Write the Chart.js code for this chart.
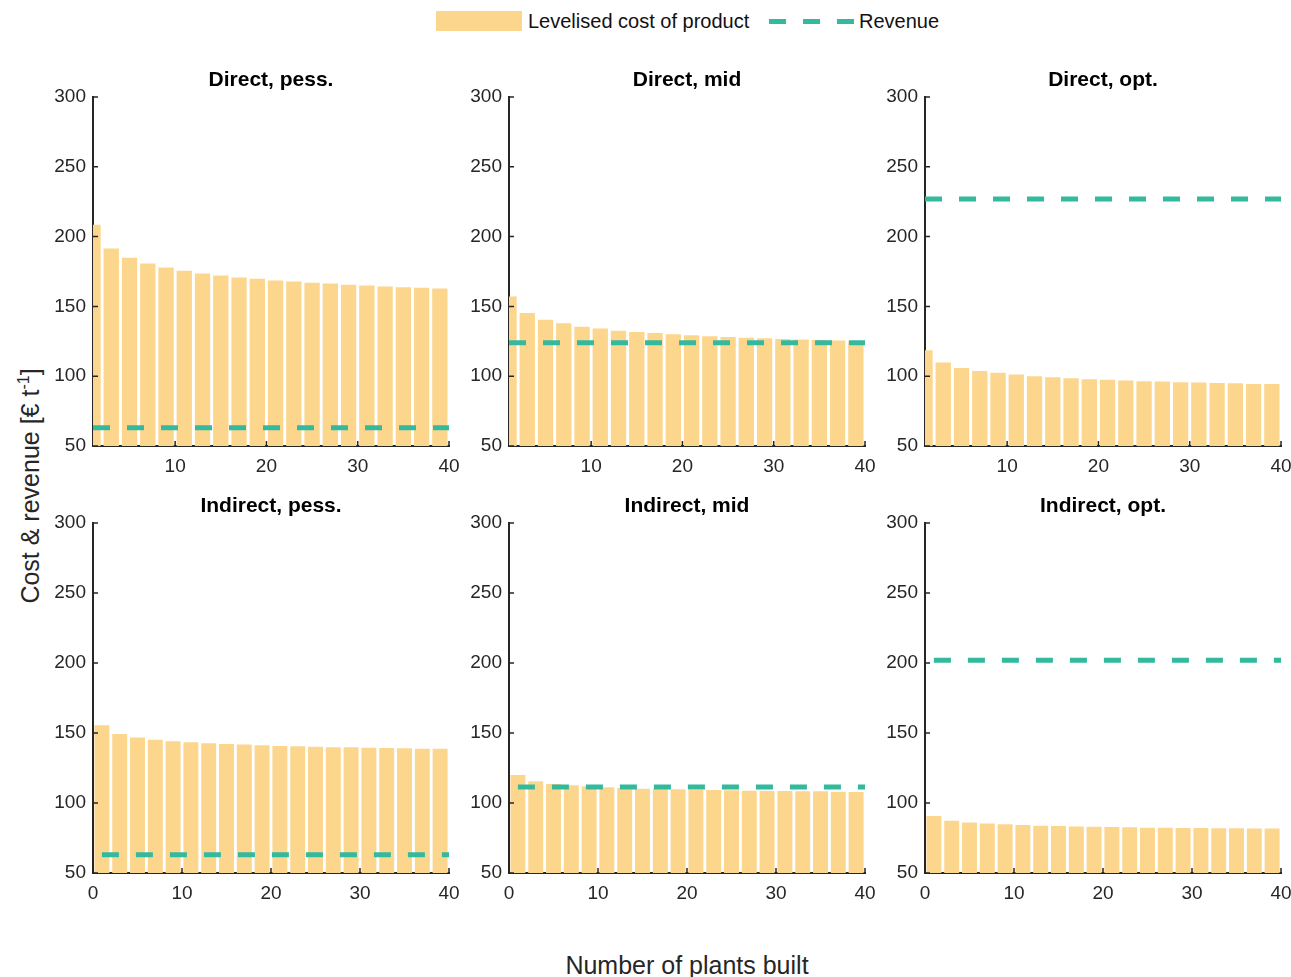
<!DOCTYPE html>
<html>
<head>
<meta charset="utf-8">
<script src="https://cdn.jsdelivr.net/npm/chart.js@4.4.1/dist/chart.umd.min.js"></script>
<style>
  html, body { margin: 0; padding: 0; background: #fff; }
  #root { position: relative; width: 1291px; height: 977px; overflow: hidden; font-family: "Liberation Sans", Arial, sans-serif; }
  .pane { position: absolute; }
  .lbl { position: absolute; color: #262626; white-space: nowrap; }
</style>
</head>
<body>
<div id="root">
  <div class="lbl" style="left:436px;top:11px;width:86px;height:20px;background:#FDD68E;"></div>
  <div class="lbl" style="left:528px;top:9px;font-size:20px;line-height:24px;color:#111;">Levelised cost of product</div>
  <div class="lbl" style="left:769px;top:19px;width:86px;height:5px;background:repeating-linear-gradient(90deg,#33B99E 0px,#33B99E 17px,transparent 17px,transparent 34px);"></div>
  <div class="lbl" style="left:859px;top:9px;font-size:20px;line-height:24px;color:#111;">Revenue</div>
  <div class="lbl" style="left:30px;top:486px;font-size:25px;line-height:28px;transform:translate(-50%,-50%) rotate(-90deg);">Cost &amp; revenue [€ t<sup style="font-size:16px;vertical-align:10px;line-height:0;">-1</sup>]</div>
  <div class="lbl" style="left:687px;top:965px;font-size:25px;line-height:28px;transform:translate(-50%,-50%);">Number of plants built</div>
</div>
<script>
// ---- data ----
const plants = [1,3,5,7,9,11,13,15,17,19,21,23,25,27,29,31,33,35,37,39];
const revenueX = [1, 40];
const titles = ["Direct, pess.", "Direct, mid", "Direct, opt.", "Indirect, pess.", "Indirect, mid", "Indirect, opt."];
const directPess   = [208.4,191.4,184.8,180.7,177.9,175.5,173.6,172.1,170.7,169.8,168.6,167.9,166.9,166.4,165.5,165.0,164.3,163.8,163.3,162.9];
const directMid    = [157.1,145.3,140.5,137.9,135.5,134.1,132.6,131.7,131.0,130.0,129.3,128.6,128.1,127.6,127.1,126.7,126.2,126.0,125.5,125.3];
const directOpt    = [118.6,109.8,105.9,103.8,102.4,101.2,100.0,99.3,98.6,97.9,97.4,96.9,96.4,96.2,95.7,95.5,95.2,95.0,94.5,94.5];
const indirectPess = [155.5,149.3,146.7,145.2,144.1,143.4,142.6,142.1,141.7,141.2,140.7,140.5,140.2,139.8,139.8,139.5,139.3,139.1,138.8,138.8];
const indirectMid  = [120.0,115.5,113.6,112.6,111.9,111.2,110.7,110.2,110.0,109.8,109.3,109.3,109.1,108.8,108.6,108.6,108.4,108.4,108.1,107.9];
const indirectOpt  = [90.7,87.4,86.0,85.3,84.8,84.3,83.8,83.6,83.3,83.1,82.9,82.6,82.4,82.4,82.1,82.1,81.9,81.9,81.7,81.7];
const revenue = [63, 124, 227, 63, 111.5, 202];
const costSeries = [directPess, directMid, directOpt, indirectPess, indirectMid, indirectOpt];
const yTicks = [50, 100, 150, 200, 250, 300];
const xTicksTop = [10, 20, 30, 40];
const xTicksBottom = [0, 10, 20, 30, 40];
const xMinTop = 1, xMinBottom = 0, xMax = 40;

// ---- layout ----
const colLeft = [93, 509, 925];
const rowTop = [97, 523];
const rowH = [349, 350];
const areaW = 356;
const padL = 70, padR = 70, padT = 45, padB = 40;
const BAR = '#FDD68E', REV = '#33B99E', AX = '#262626';
const FONT = '"Liberation Sans", Arial, sans-serif';

const decor = {
  id: 'decor',
  afterDatasetsDraw(chart, args, opts) {
    const ctx = chart.ctx, a = chart.chartArea;
    const xs = chart.scales.x, ys = chart.scales.y;
    ctx.save();
    ctx.strokeStyle = AX; ctx.lineWidth = 1.5;
    ctx.beginPath();
    xs.ticks.forEach(t => { const px = xs.getPixelForValue(t.value); ctx.moveTo(px, a.bottom); ctx.lineTo(px, a.bottom - 5); });
    ys.ticks.forEach(t => { const py = ys.getPixelForValue(t.value); ctx.moveTo(a.left, py); ctx.lineTo(a.left + 5, py); });
    ctx.stroke();
    ctx.fillStyle = '#000';
    ctx.font = 'bold 21px ' + FONT;
    ctx.textAlign = 'center'; ctx.textBaseline = 'middle';
    ctx.fillText(opts.title, (a.left + a.right) / 2, a.top - 17);
    ctx.restore();
  }
};

const root = document.getElementById('root');
for (let i = 0; i < 6; i++) {
  const r = Math.floor(i / 3), c = i % 3;
  const H = rowH[r];
  const div = document.createElement('div');
  div.className = 'pane';
  const w = areaW + padL + padR, h = H + padT + padB;
  div.style.left = (colLeft[c] - padL) + 'px';
  div.style.top = (rowTop[r] - padT) + 'px';
  div.style.width = w + 'px';
  div.style.height = h + 'px';
  const cv = document.createElement('canvas');
  div.appendChild(cv);
  root.appendChild(div);
  const xTicks = r === 0 ? xTicksTop : xTicksBottom;
  new Chart(cv, {
    type: 'bar',
    data: {
      datasets: [
        { type: 'line', label: 'Revenue', order: 0,
          data: revenueX.map(x => ({ x: x, y: revenue[i] })),
          borderColor: REV, borderWidth: 5, borderDash: [17, 17], borderCapStyle: 'butt',
          pointRadius: 0, fill: false, tension: 0 },
        { type: 'bar', label: 'Levelised cost of product', order: 1,
          data: plants.map((x, k) => ({ x: x, y: costSeries[i][k] })),
          backgroundColor: BAR, borderWidth: 0,
          barPercentage: 0.84, categoryPercentage: 1.0 }
      ]
    },
    options: {
      responsive: true, maintainAspectRatio: false, animation: false,
      layout: { padding: { top: padT, right: padR, left: 0, bottom: 0 } },
      plugins: { legend: { display: false }, tooltip: { enabled: false }, decor: { title: titles[i] } },
      scales: {
        x: {
          type: 'linear', offset: false,
          min: r === 0 ? xMinTop : xMinBottom, max: xMax,
          grid: { display: true, drawOnChartArea: false, drawTicks: false, offset: false },
          border: { display: true, color: AX, width: 2 },
          ticks: { color: AX, font: { family: FONT, size: 19 }, padding: 9, maxRotation: 0 },
          afterBuildTicks: s => { s.ticks = xTicks.map(v => ({ value: v })); },
          afterFit: s => { s.height = padB; }
        },
        y: {
          type: 'linear', min: 50, max: 300,
          grid: { display: true, drawOnChartArea: false, drawTicks: false },
          border: { display: true, color: AX, width: 2 },
          ticks: { color: AX, font: { family: FONT, size: 19 }, padding: 7 },
          afterBuildTicks: s => { s.ticks = yTicks.map(v => ({ value: v })); },
          afterFit: s => { s.width = padL; }
        }
      }
    },
    plugins: [decor]
  });
}
</script>
</body>
</html>
